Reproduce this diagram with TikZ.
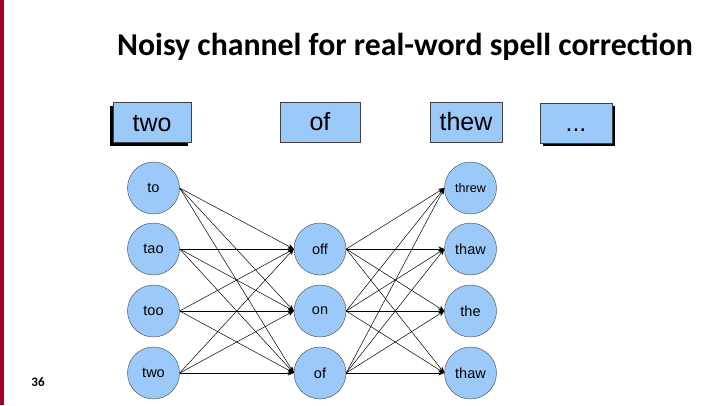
\documentclass[tikz,border=0pt]{standalone}
\usepackage{fontspec}
\setmainfont{Liberation Sans}
\newfontfamily\titlefont{Carlito}
\usetikzlibrary{arrows.meta,shadows}
\definecolor{wordblue}{RGB}{155,201,250}
\definecolor{slidered}{RGB}{165,0,33}

\begin{document}
\begin{tikzpicture}[x=1pt,y=-1pt]
\tikzset{
  word/.style={draw=black!75, fill=wordblue, minimum height=40pt, inner sep=0pt,
    text height=17pt, text depth=0pt, font=\fontsize{25}{25}\selectfont},
  cand/.style={circle, draw=black!75, fill=wordblue, minimum size=52pt, inner sep=0pt,
    font=\fontsize{14.5}{14.5}\selectfont},
  link/.style={-{Stealth[length=6pt,width=5pt]}, line width=0.5pt},
  boxshadow/.style={drop shadow={shadow xshift=#1, shadow yshift=-3pt, fill=black, opacity=1}}
}
\useasboundingbox (0,0) rectangle (720,405);
\fill[slidered] (0,0) rectangle (4,405);
\node[font=\titlefont\bfseries\fontsize{31.8}{31.8}\selectfont] (title) at (405,47) {Noisy channel for real-word spell correction};
\node[font=\titlefont\bfseries\fontsize{13}{13}\selectfont] (page) at (38,382) {36};
% observed words
\node[word, boxshadow=-3pt, minimum width=78pt] (w1) at (152,122.5) {two};
\node[word, minimum width=80pt] (w2) at (320,122) {of};
\node[word, minimum width=72pt] (w3) at (466,122) {thew};
\node[word, boxshadow=3pt, minimum width=72pt] (w4) at (576,123) {...};
% candidates
\node[cand] (l1) at (153.5,188) {to};
\node[cand] (l2) at (153.5,249) {tao};
\node[cand] (l3) at (153.5,311) {too};
\node[cand] (l4) at (153.5,373) {two};
\node[cand] (m1) at (320,249) {off};
\node[cand] (m2) at (320,311) {on};
\node[cand] (m3) at (320,373) {of};
\node[cand, font=\fontsize{12.5}{12.5}\selectfont] (r1) at (470.5,188) {threw};
\node[cand] (r2) at (470.5,249) {thaw};
\node[cand] (r3) at (470.5,311) {the};
\node[cand] (r4) at (470.5,373) {thaw};
% channel links
\foreach \a in {1,...,4}
  \foreach \b in {1,2,3}
    \draw[link] (l\a.east) -- (m\b.west);
\foreach \a in {1,2,3}
  \foreach \b in {1,...,4}
    \draw[link] (m\a.east) -- (r\b.west);
\end{tikzpicture}
\end{document}
